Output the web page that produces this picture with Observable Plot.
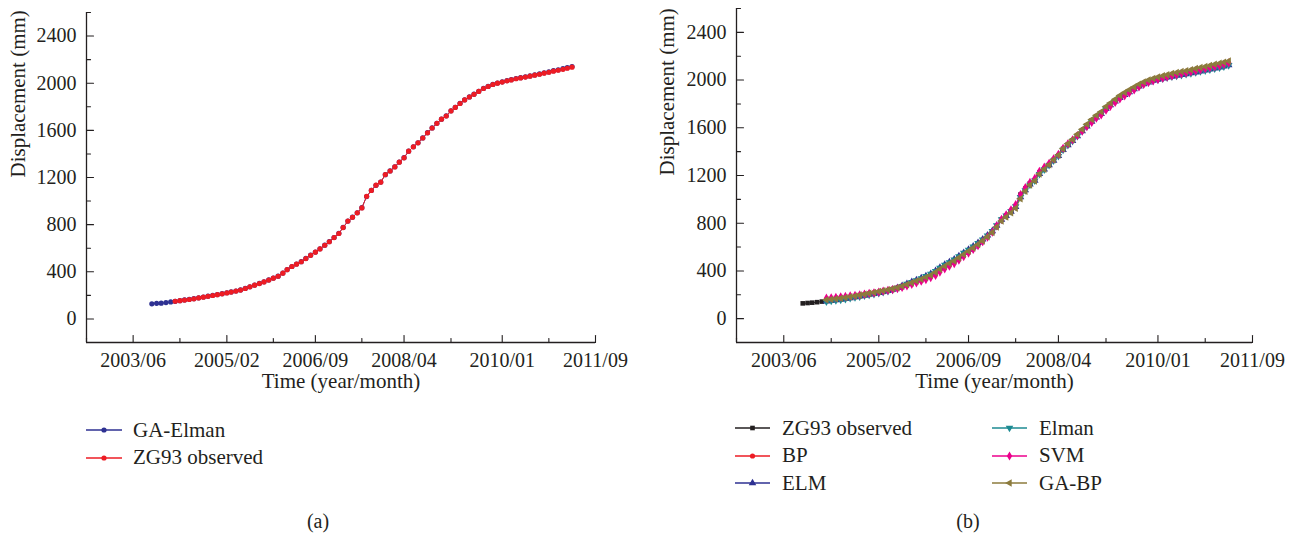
<!DOCTYPE html>
<html>
<head>
<meta charset="utf-8">
<script src="https://cdn.jsdelivr.net/npm/d3@7"></script>
<script src="https://cdn.jsdelivr.net/npm/@observablehq/plot@0.6"></script>
<style>
  body { margin: 0; background: #fff; }
  #page { position: relative; width: 1294px; height: 534px; overflow: hidden;
          font-family: "Liberation Serif", serif; color: #231f20; }
  .panel { position: absolute; top: 0; }
  .row { position: absolute; display: flex; align-items: center; white-space: nowrap;
         height: 28px; font-size: 21px; font-family: "Liberation Serif", serif; }
  .row svg { flex: none; }
  .caption { position: absolute; font-size: 20px; font-family: "Liberation Serif", serif;
             transform: translate(-50%, -50%); }
</style>
</head>
<body>
<div id="page"></div>
<script>
// ---- axis setup ----
const xTicks = ["2003/06", "2005/02", "2006/09", "2008/04", "2010/01", "2011/09"];
const xMinorTicks = ["2002/08", "2004/04", "2005/12", "2007/07", "2009/02", "2010/11"];
const xRange = ["2002/08", "2011/09"];
const yTicks = [0, 400, 800, 1200, 1600, 2000, 2400];
const yMinorTicks = [-200, 200, 600, 1000, 1400, 1800, 2200, 2600];
const yRange = [-200, 2600];
const xTitle = "Time (year/month)";
const yTitle = "Displacement (mm)";

// ---- monthly displacement series (mm) ----
const observedStart = "2003/10";   // first observed month
const modelStart = "2004/03";      // first predicted month

const observed = [
  128, 131, 134, 138, 143,
  150, 155, 160, 165, 171, 178, 185, 192, 199, 206,
  213, 221, 228, 236, 245, 258, 272, 286, 300, 314,
  330, 346, 362, 388, 418, 445, 465, 485, 512, 540,
  566, 594, 625, 655, 690, 725, 775, 830, 862, 900,
  942, 1040, 1090, 1135, 1160, 1225, 1255, 1290, 1330, 1367,
  1423, 1460, 1494, 1535, 1579, 1620, 1660, 1695, 1722, 1765,
  1795, 1828, 1858, 1883, 1906, 1930, 1955, 1972, 1989, 2000,
  2010, 2020, 2028, 2038, 2045, 2052, 2060, 2068, 2076, 2085,
  2093, 2102, 2110, 2118, 2127, 2136
];

const gaElman = [
  128, 132, 134, 139, 144,
  149, 155, 161, 166, 172, 179, 186, 193, 200, 207,
  214, 222, 229, 237, 246, 259, 273, 287, 301, 315,
  331, 347, 363, 389, 419, 445, 466, 486, 513, 541,
  567, 595, 626, 656, 691, 727, 776, 830, 863, 901,
  944, 1038, 1090, 1134, 1161, 1224, 1256, 1291, 1331, 1368,
  1423, 1461, 1495, 1536, 1580, 1621, 1660, 1695, 1723, 1766,
  1796, 1829, 1859, 1884, 1907, 1931, 1956, 1973, 1990, 2001,
  2012, 2022, 2030, 2040, 2047, 2054, 2062, 2070, 2079, 2088,
  2096, 2106, 2114, 2123, 2132, 2142
];

const bp = [
  160, 163, 167, 172, 177, 183, 190, 197, 204, 211,
  218, 225, 232, 240, 249, 260, 274, 289, 303, 317,
  332, 348, 366, 390, 418, 444, 466, 488, 515, 543,
  570, 598, 628, 659, 693, 730, 778, 828, 865, 903,
  948, 1030, 1085, 1130, 1162, 1220, 1258, 1293, 1332, 1370,
  1420, 1462, 1497, 1538, 1580, 1620, 1658, 1693, 1725, 1765,
  1797, 1828, 1857, 1882, 1905, 1930, 1953, 1972, 1988, 2002,
  2012, 2022, 2030, 2040, 2047, 2055, 2062, 2070, 2079, 2088,
  2096, 2105, 2113, 2121, 2130, 2140
];

const elm = [
  146, 150, 155, 160, 166, 173, 180, 187, 194, 201,
  208, 216, 224, 233, 244, 258, 275, 292, 308, 323,
  340, 357, 375, 400, 428, 452, 474, 497, 525, 552,
  578, 605, 636, 665, 698, 735, 780, 830, 862, 898,
  938, 1020, 1078, 1125, 1158, 1215, 1252, 1288, 1326, 1364,
  1416, 1456, 1490, 1530, 1572, 1612, 1652, 1688, 1718, 1758,
  1790, 1822, 1852, 1877, 1900, 1924, 1948, 1966, 1982, 1995,
  2004, 2014, 2022, 2030, 2037, 2044, 2051, 2058, 2066, 2074,
  2082, 2090, 2098, 2106, 2115, 2126
];

const elman = [
  143, 148, 153, 158, 164, 171, 178, 185, 192, 199,
  206, 214, 222, 231, 242, 256, 273, 290, 306, 321,
  338, 356, 374, 398, 426, 450, 472, 495, 522, 550,
  576, 603, 633, 663, 696, 733, 782, 832, 864, 900,
  940, 1018, 1075, 1122, 1156, 1212, 1250, 1286, 1324, 1362,
  1414, 1455, 1489, 1529, 1571, 1611, 1650, 1686, 1716, 1756,
  1788, 1820, 1850, 1876, 1899, 1922, 1946, 1965, 1981, 1994,
  2003, 2012, 2020, 2028, 2035, 2042, 2049, 2056, 2064, 2072,
  2080, 2088, 2096, 2104, 2113, 2124
];

const svm = [
  172, 175, 178, 182, 186, 190, 195, 200, 205, 211,
  217, 223, 230, 237, 244, 252, 262, 275, 288, 300,
  314, 328, 344, 362, 390, 418, 440, 462, 490, 520,
  550, 580, 612, 645, 684, 725, 778, 832, 870, 912,
  955, 1040, 1098, 1142, 1175, 1235, 1270, 1302, 1340, 1378,
  1428, 1466, 1498, 1535, 1572, 1610, 1645, 1680, 1708, 1748,
  1780, 1812, 1842, 1868, 1892, 1918, 1942, 1963, 1980, 1994,
  2005, 2016, 2026, 2036, 2044, 2052, 2060, 2068, 2077, 2086,
  2095, 2104, 2113, 2122, 2132, 2144
];

const gaBp = [
  158, 162, 166, 171, 177, 183, 190, 197, 204, 212,
  220, 227, 234, 242, 250, 260, 272, 286, 300, 315,
  331, 347, 364, 388, 414, 440, 462, 484, 510, 538,
  565, 592, 622, 652, 686, 722, 768, 818, 852, 888,
  925, 1005, 1068, 1120, 1155, 1212, 1252, 1290, 1332, 1372,
  1425, 1466, 1502, 1545, 1588, 1630, 1670, 1705, 1735, 1778,
  1808, 1840, 1870, 1895, 1918, 1942, 1965, 1984, 2000, 2014,
  2025, 2036, 2045, 2055, 2063, 2071, 2079, 2087, 2096, 2105,
  2114, 2123, 2132, 2141, 2150, 2160
];

// ---- helpers ----
const ink = "#231f20";
const serif = "Liberation Serif";
const parseMonth = d3.utcParse("%Y/%m");
const formatMonth = d3.utcFormat("%Y/%m");
const xDomain = xRange.map(parseMonth);
const xTickDates = xTicks.map(parseMonth);
const xMinorDates = xMinorTicks.map(parseMonth);

function series(name, start, values) {
  const t0 = parseMonth(start);
  return values.map((value, i) => ({name, date: d3.utcMonth.offset(t0, i), value}));
}

// marker shapes missing from d3's symbol set
const symbolTriangleDown = {
  draw(context, size) {
    const y = -Math.sqrt(size / (Math.sqrt(3) * 3));
    context.moveTo(0, -y * 2);
    context.lineTo(-Math.sqrt(3) * y, y);
    context.lineTo(Math.sqrt(3) * y, y);
    context.closePath();
  }
};
const symbolTriangleLeft = {
  draw(context, size) {
    const y = -Math.sqrt(size / (Math.sqrt(3) * 3));
    context.moveTo(y * 2, 0);
    context.lineTo(-y, -Math.sqrt(3) * y);
    context.lineTo(-y, Math.sqrt(3) * y);
    context.closePath();
  }
};

// inward-pointing tick marks along the axes
const tickShape = {draw(context, l) { context.moveTo(0, 0); context.lineTo(0, -l); }};

function axisMarks(yTitleDx) {
  const x0 = xDomain[0], y0 = yRange[0];
  const tick = (data, x, y, length, rotate) =>
    Plot.vector(data, {x, y, length, rotate, anchor: "start", shape: tickShape, stroke: ink, strokeWidth: 1.1});
  return [
    Plot.ruleX([x0], {y1: yRange[0], y2: yRange[1], stroke: ink, strokeWidth: 1.3}),
    Plot.ruleY([y0], {x1: () => xDomain[0], x2: () => xDomain[1], stroke: ink, strokeWidth: 1.3}),
    tick(yTicks, () => x0, d => d, 7, 90),
    tick(yMinorTicks, () => x0, d => d, 4, 90),
    tick(xTickDates, d => d, () => y0, 7, 0),
    tick(xMinorDates, d => d, () => y0, 4, 0),
    Plot.axisY(yTicks, {tickSize: 0, tickPadding: 10, fontSize: 20, fontFamily: serif, fontVariant: "normal",
                        fill: ink, tickFormat: d => String(d), label: null}),
    Plot.axisX(xTickDates, {tickSize: 0, tickPadding: 10, fontSize: 20, fontFamily: serif, fontVariant: "normal",
                            fill: ink, tickFormat: formatMonth, label: null}),
    Plot.text([yTitle], {frameAnchor: "left", rotate: -90, dx: yTitleDx, fontSize: 21, fontFamily: serif, fill: ink}),
    Plot.text([xTitle], {frameAnchor: "bottom", dy: 45, fontSize: 21, fontFamily: serif, fill: ink})
  ];
}

function seriesMarks(data, color, symbol, r) {
  return [
    Plot.line(data, {x: "date", y: "value", stroke: color, strokeWidth: 1}),
    Plot.dot(data, {x: "date", y: "value", r, symbol, fill: color, stroke: "none"})
  ];
}

const baseStyle = {fontFamily: serif, fontSize: "20px", color: ink, background: "transparent", overflow: "visible"};

// ---- panel (a) ----
const panelA = [
  {label: "GA-Elman", color: "#2e3192", symbol: "circle", r: 2.6, values: gaElman, start: observedStart},
  {label: "ZG93 observed", color: "#ed1c24", symbol: "circle", r: 2.6, values: observed.slice(5), start: modelStart}
];

// ---- panel (b) ----
const panelB = [
  {label: "ZG93 observed", color: "#231f20", symbol: "square", r: 2.6, values: observed, start: observedStart},
  {label: "BP", color: "#ed1c24", symbol: "circle", r: 2.6, values: bp, start: modelStart},
  {label: "ELM", color: "#2e3192", symbol: "triangle", r: 2.8, values: elm, start: modelStart},
  {label: "Elman", color: "#1c8a92", symbol: symbolTriangleDown, r: 2.8, values: elman, start: modelStart},
  {label: "SVM", color: "#ec008c", symbol: "diamond", r: 2.8, values: svm, start: modelStart},
  {label: "GA-BP", color: "#8c7b3d", symbol: symbolTriangleLeft, r: 2.8, values: gaBp, start: modelStart}
];

function makePanel(spec, layout) {
  return Plot.plot({
    width: layout.width,
    height: 400,
    marginLeft: layout.marginLeft,
    marginRight: layout.marginRight,
    marginTop: layout.marginTop,
    marginBottom: 58,
    style: baseStyle,
    x: {type: "utc", domain: xDomain},
    y: {domain: yRange},
    marks: [
      ...spec.flatMap(s => seriesMarks(series(s.label, s.start, s.values), s.color, s.symbol, s.r)),
      ...axisMarks(layout.yTitleDx)
    ]
  });
}

const page = document.getElementById("page");

const svgA = makePanel(panelA, {width: 640, marginLeft: 86, marginRight: 45, marginTop: 12, yTitleDx: -68});
svgA.classList.add("panel");
svgA.style.left = "0px";
page.appendChild(svgA);

const svgB = makePanel(panelB, {width: 647, marginLeft: 89, marginRight: 42, marginTop: 8, yTitleDx: -69});
svgB.classList.add("panel");
svgB.style.left = "647px";
page.appendChild(svgB);

// ---- legends ----
function symbolPath(symbol, r) {
  const type = typeof symbol === "string"
    ? {circle: d3.symbolCircle, square: d3.symbolSquare, triangle: d3.symbolTriangle, diamond: d3.symbolDiamond}[symbol]
    : symbol;
  return d3.symbol(type, Math.PI * r * r)();
}

function legendRow(s, left, cy, lineLen, gap) {
  const row = document.createElement("div");
  row.className = "row";
  row.style.left = left + "px";
  row.style.top = (cy - 14) + "px";
  const svg = d3.create("svg").attr("width", lineLen).attr("height", 28);
  svg.append("line").attr("x1", 0).attr("x2", lineLen).attr("y1", 14).attr("y2", 14)
    .attr("stroke", s.color).attr("stroke-width", 1.3);
  svg.append("path").attr("d", symbolPath(s.symbol, s.r)).attr("transform", `translate(${lineLen / 2},14)`)
    .attr("fill", s.color);
  row.appendChild(svg.node());
  const label = document.createElement("span");
  label.textContent = s.label;
  label.style.marginLeft = gap + "px";
  row.appendChild(label);
  page.appendChild(row);
}

panelA.forEach((s, i) => legendRow(s, 86, 430 + i * 27.5, 36, 11));
panelB.forEach((s, i) => {
  const col = Math.floor(i / 3), rowIndex = i % 3;
  legendRow(s, col === 0 ? 735 : 992, 428 + rowIndex * 27.5, 35, 12);
});

// ---- captions ----
[["(a)", 318], ["(b)", 968]].forEach(([text, x]) => {
  const c = document.createElement("div");
  c.className = "caption";
  c.textContent = text;
  c.style.left = x + "px";
  c.style.top = "521px";
  page.appendChild(c);
});
</script>
</body>
</html>
